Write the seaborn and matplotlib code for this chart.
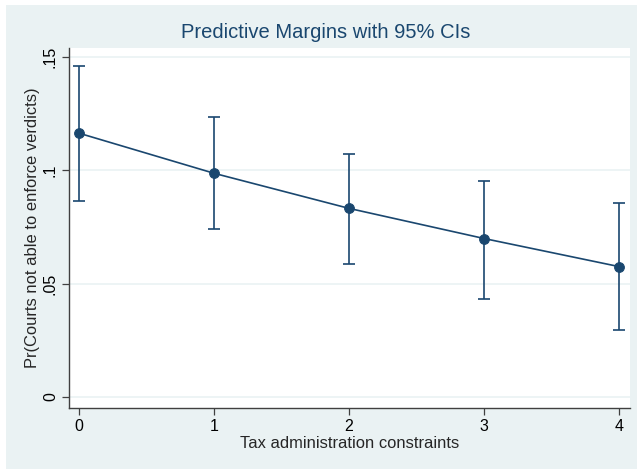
import matplotlib
matplotlib.use("Agg")
import matplotlib.pyplot as plt
from matplotlib.patches import Rectangle
import numpy as np
import pandas as pd
import seaborn as sns

# values
tax_constraints = [0, 1, 2, 3, 4]
margin = [0.1164, 0.0987, 0.0832, 0.0699, 0.0575]
ci_low = [0.0863, 0.0739, 0.0588, 0.0434, 0.0296]
ci_high = [0.1460, 0.1235, 0.1071, 0.0951, 0.0858]
y_ticks = [0, 0.05, 0.10, 0.15]
y_tick_labels = ["0", ".05", ".1", ".15"]

NAVY = "#1A476F"
BG = "#EAF2F3"

sns.set_style("white")
plt.rcParams["font.family"] = ["Liberation Sans", "DejaVu Sans"]

W, H = 637, 470
fig = plt.figure(figsize=(W / 100, H / 100), dpi=100, facecolor="white")
fig.patches.append(Rectangle((6 / W, 1 / H), 1 - 6 / W, 464 / H,
                             transform=fig.transFigure, facecolor=BG,
                             edgecolor="none", zorder=-10))

ax = fig.add_axes([69 / W, 1 - 408 / H, (630 - 69) / W, (408 - 48) / H])
ax.set_facecolor("white")

df = pd.DataFrame({"x": tax_constraints, "y": margin,
                   "lo": ci_low, "hi": ci_high})

yerr = np.vstack([df["y"] - df["lo"], df["hi"] - df["y"]])
ax.errorbar(df["x"], df["y"], yerr=yerr, fmt="none", ecolor=NAVY,
            elinewidth=1.2, capsize=4, capthick=1.2, zorder=2)
sns.lineplot(data=df, x="x", y="y", ax=ax, color=NAVY, linewidth=1.2,
             marker="o", markersize=7, markeredgecolor=NAVY, zorder=3)

ax.set_xlim(-0.074, 4.08)
ax.set_ylim(-0.0049, 0.154)
ax.set_xticks(tax_constraints)
ax.set_xticklabels([str(v) for v in tax_constraints], fontsize=11.5)
ax.set_yticks(y_ticks)
ax.set_yticklabels(y_tick_labels, fontsize=11.5, rotation=90, va="center")
ax.grid(axis="y", color=BG, linewidth=1.2)
ax.grid(axis="x", visible=False)
ax.set_axisbelow(True)

for side in ["top", "right"]:
    ax.spines[side].set_visible(False)
for side in ["left", "bottom"]:
    ax.spines[side].set_color("#404040")
    ax.spines[side].set_linewidth(1.0)
ax.tick_params(axis="both", direction="out", length=5, width=0.9,
               color="#404040", labelcolor="black", pad=3, left=True, bottom=True)

ax.set_xlabel("Tax administration constraints", fontsize=11.9, va="center")
ax.set_ylabel("Pr(Courts not able to enforce verdicts)", fontsize=11.9, va="center")
ax.xaxis.set_label_coords(0.5, (408 - 443) / 360)
ax.yaxis.set_label_coords((33 - 69) / 561, 0.5)

fig.text(326 / W, 1 - 33 / H, "Predictive Margins with 95% CIs",
         ha="center", va="center", fontsize=14.5, color=NAVY)

fig.savefig("out.png", dpi=100, facecolor=fig.get_facecolor())
